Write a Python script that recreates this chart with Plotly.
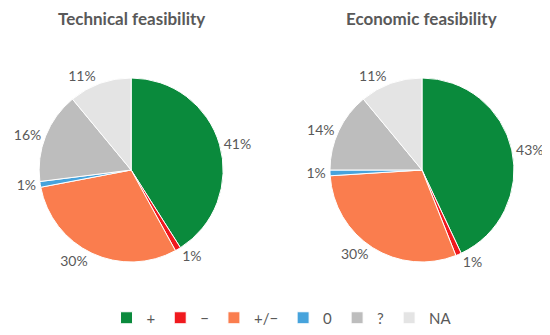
import plotly.graph_objects as go

categories = ["+", "\u2212", "+/\u2212", "0", "?", "NA"]
technical = [41, 1, 30, 1, 16, 11]
economic = [43, 1, 30, 1, 14, 11]
titles = ["Technical feasibility", "Economic feasibility"]

colors = ["#0A8A3C", "#F0191E", "#FA7D4E", "#46A3DC", "#BDBDBD", "#E4E4E4"]
FONT = "Lato, 'Open Sans', sans-serif"
GRAY = "#595959"
W, H, OFF = 550, 335, 8  # page body margin offset


def px(x):
    return (x - OFF) / W


def py(y):
    return 1 - (y - OFF) / H


fig = go.Figure()
domains = [dict(x=[px(35), px(221)], y=[py(262), py(78)]),
           dict(x=[px(328), px(514)], y=[py(262), py(78)])]
for vals, dom in zip([technical, economic], domains):
    fig.add_trace(go.Pie(
        labels=categories, values=vals, domain=dom,
        sort=False, direction="clockwise", rotation=0,
        marker=dict(colors=colors, line=dict(color="white", width=1)),
        textposition="outside",
        texttemplate="%{value}%",
        outsidetextfont=dict(family=FONT, size=14, color=GRAY),
        hoverinfo="label+percent",
    ))

for t, cx in zip(titles, [128, 421]):
    fig.add_annotation(text="<b>" + t + "</b>", x=px(cx), y=1.0,
                       xanchor="center", yanchor="top",
                       borderpad=0, borderwidth=0,
                       xref="paper", yref="paper", showarrow=False,
                       font=dict(family=FONT, size=17, color=GRAY))

fig.update_layout(
    width=W, height=H,
    margin=dict(l=0, r=0, t=0, b=0),
    paper_bgcolor="white", plot_bgcolor="white",
    showlegend=True,
    legend=dict(orientation="h", x=px(280), xanchor="center", y=py(318), yanchor="middle",
                font=dict(family=FONT, size=15, color=GRAY),
                itemwidth=30, traceorder="normal"),
)

fig.write_html("out.html")
